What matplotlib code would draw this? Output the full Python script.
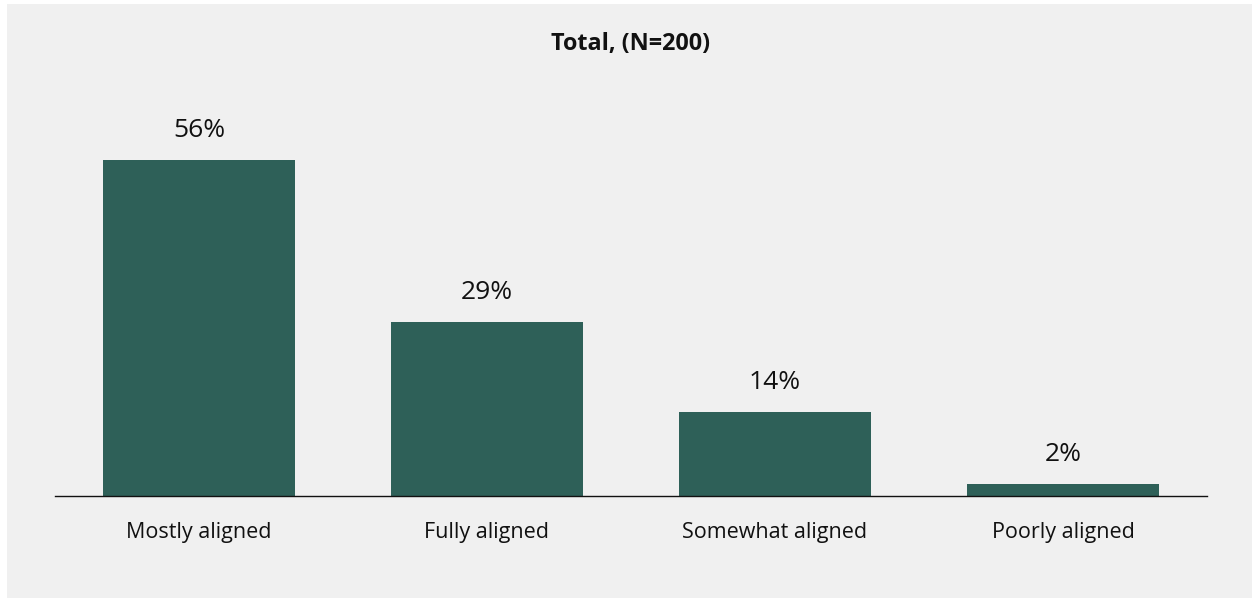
import matplotlib.pyplot as plt
from matplotlib.patches import Rectangle

categories = ['Mostly aligned', 'Fully aligned', 'Somewhat aligned', 'Poorly aligned']
values = [56, 29, 14, 2]
title = 'Total, (N=200)'

plt.rcParams['font.family'] = ['Open Sans', 'DejaVu Sans']

W, H = 1252, 598
fig = plt.figure(figsize=(W / 100, H / 100), dpi=100)
fig.patch.set_facecolor('white')
# grey panel behind the chart
fig.add_artist(Rectangle((7 / W, 0), 1 - 7 / W, 1 - 4 / H, transform=fig.transFigure,
                         facecolor='#f0f0f0', edgecolor='none', zorder=0))

ax = fig.add_axes([55 / W, 102 / H, 1152 / W, 420 / H])
ax.set_facecolor('none')
x = range(len(categories))
ax.bar(x, values, width=0.667, color='#2e6058', zorder=2)
for i, v in zip(x, values):
    ax.annotate(f'{v}%', (i, v), xytext=(0, 21.5), textcoords='offset points',
                ha='center', va='center', fontsize=19, color='#111111')

ax.set_xlim(-0.5, 3.5)
ax.set_ylim(0, 70)
ax.set_xticks(list(x))
ax.set_xticklabels(categories, fontsize=15.5, color='#111111')
ax.tick_params(axis='x', length=0, pad=19)
ax.set_yticks([])
for s in ['top', 'right', 'left']:
    ax.spines[s].set_visible(False)
ax.spines['bottom'].set_color('#111111')
ax.spines['bottom'].set_linewidth(1)

fig.text(631 / W, 1 - 44 / H, title, ha='center', va='center', fontsize=16.8,
         fontweight='bold', color='#111111')

fig.savefig('out.png', dpi=100)
